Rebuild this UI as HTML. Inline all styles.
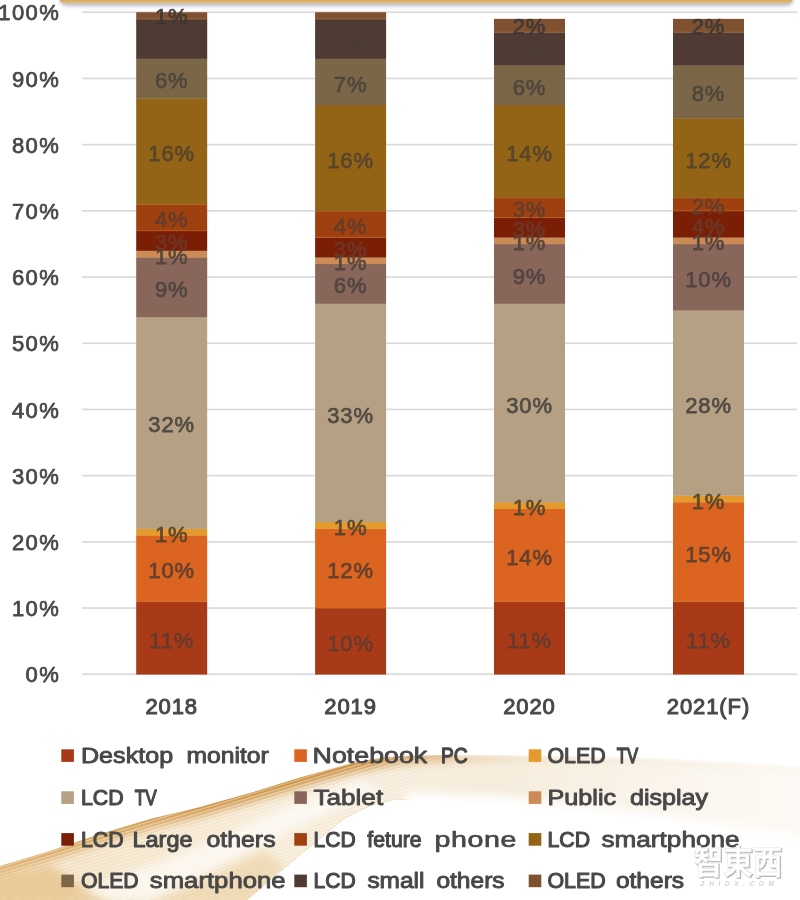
<!DOCTYPE html>
<html lang="en"><head><meta charset="utf-8"><title>Display panel demand share by application</title>
<style>
html,body{margin:0;padding:0;background:#fff;}
body{width:800px;height:900px;position:relative;overflow:hidden;}
svg{position:absolute;left:0;top:0;display:block;}
text{font-family:"Liberation Sans","Noto Sans CJK SC",sans-serif;font-size:22px;font-weight:normal;fill:#484848;stroke:#484848;stroke-width:.75px;stroke-linejoin:round;}
.ax{text-anchor:end;letter-spacing:1.4px;}
.dl,.cat{text-anchor:middle;letter-spacing:.9px;}
.dl{opacity:.92;}
.cat{stroke-width:1px;}
.wm{font-family:"Liberation Sans","Noto Sans CJK TC","Noto Sans CJK SC",sans-serif;font-weight:bold;font-size:33px;fill:#fff;stroke:#e2e2e2;stroke-width:.5px;text-anchor:middle;}
.wms{fill:#cdcdcd;stroke:#cdcdcd;stroke-width:1.1px;}
.wm2{font-size:6.5px;font-style:italic;font-weight:bold;fill:#d4d4d4;stroke:none;text-anchor:middle;letter-spacing:4.6px;}
</style></head><body>
<svg width="800" height="900" viewBox="0 0 800 900">
<defs>
<filter id="b2" x="-10%" y="-50%" width="120%" height="200%"><feGaussianBlur stdDeviation="2"/></filter>
<filter id="b4" x="-10%" y="-50%" width="120%" height="200%"><feGaussianBlur stdDeviation="4"/></filter>
<filter id="b8" x="-10%" y="-50%" width="120%" height="200%"><feGaussianBlur stdDeviation="8"/></filter>
<filter id="sh" x="-5%" y="-100%" width="110%" height="400%"><feGaussianBlur stdDeviation="2"/></filter>
<linearGradient id="gEdge" gradientUnits="userSpaceOnUse" x1="0" y1="0" x2="800" y2="0">
<stop offset="0" stop-color="#DCAE6A"/><stop offset=".2" stop-color="#D39C50"/><stop offset=".36" stop-color="#C98B38"/><stop offset=".46" stop-color="#CB8E3E"/><stop offset=".54" stop-color="#DDB57C"/><stop offset=".65" stop-color="#EBD6B4"/><stop offset="1" stop-color="#F4E9D6"/>
</linearGradient>
<linearGradient id="gRib" gradientUnits="userSpaceOnUse" x1="0" y1="0" x2="800" y2="0">
<stop offset="0" stop-color="#F2DEBC"/><stop offset=".3" stop-color="#F6E9D2"/><stop offset=".6" stop-color="#F6ECDB"/><stop offset="1" stop-color="#FAF4EA"/>
</linearGradient>
<filter id="b5" x="-10%" y="-20%" width="120%" height="140%"><feGaussianBlur stdDeviation="5"/></filter>
<linearGradient id="gBand" x1="0" y1="0" x2="0" y2="1"><stop offset="0" stop-color="#D2A556"/><stop offset=".75" stop-color="#D8AE62"/><stop offset="1" stop-color="#E4C68E"/></linearGradient>
<filter id="b1" x="-10%" y="-20%" width="120%" height="140%"><feGaussianBlur stdDeviation=".7"/></filter>
<linearGradient id="gFade" x1="0" y1="0" x2="1" y2="0"><stop offset="0" stop-color="#fff" stop-opacity="0"/><stop offset="1" stop-color="#fff" stop-opacity=".5"/></linearGradient>
<pattern id="stripes" width="6" height="3.2" patternUnits="userSpaceOnUse" patternTransform="rotate(-17)"><rect x="0" y="0" width="6" height="1.2" fill="#fff" fill-opacity=".45"/></pattern>
<linearGradient id="gStr" gradientUnits="userSpaceOnUse" x1="0" y1="0" x2="800" y2="0"><stop offset="0" stop-color="#fff" stop-opacity=".9"/><stop offset=".5" stop-color="#fff" stop-opacity=".9"/><stop offset=".62" stop-color="#fff" stop-opacity="0"/></linearGradient>
<mask id="mStr"><rect x="-10" y="740" width="820" height="170" fill="url(#gStr)"/></mask>
<filter id="wsh" x="-10%" y="-20%" width="120%" height="140%"><feDropShadow dx="1" dy="1" stdDeviation=".7" flood-color="#9a9a9a" flood-opacity=".8"/></filter>
</defs>

<clipPath id="ribc"><path d="M-10.0,869.0 L0.0,866.0 L50.0,851.0 L100.0,834.0 L150.0,819.0 L200.0,807.0 L250.0,793.0 L300.0,777.5 L350.0,763.8 L375.0,758.8 L400.0,756.0 L450.0,755.0 L500.0,755.0 L650.0,758.0 L800.0,766.0 L810.0,766.6 L810.0,843.0 L800.0,842.0 L650.0,820.0 L500.0,803.0 L420.0,799.0 L392.0,800.0 L370.0,806.0 L345.0,818.0 L307.0,849.0 L275.0,876.0 L247.0,900.0 L-10.0,900.0 Z"/></clipPath>
<g id="swoosh" clip-path="url(#ribc)">
<rect x="-10" y="740" width="820" height="170" fill="url(#gEdge)"/>
<path d="M-10.0,878.0 L0.0,875.0 L50.0,860.0 L100.0,843.0 L150.0,828.0 L200.0,816.0 L250.0,802.0 L300.0,786.5 L350.0,772.8 L375.0,767.8 L400.0,764.0 L450.0,760.5 L500.0,758.0 L650.0,761.0 L800.0,769.0 L810.0,769.6 L900,766 L900,960 L-60,960 Z" fill="url(#gRib)" filter="url(#b5)"/>
<rect x="-10" y="740" width="820" height="170" fill="url(#stripes)" mask="url(#mStr)"/>
<path d="M60,900 L200,846 L290,806 L360,780 L380,790 L300,826 L215,868 L150,900 Z" fill="#fff" opacity=".6" filter="url(#b4)"/>
<path d="M-10,876 L50,866 L110,905 L-10,905 Z" fill="#E3BD80" opacity=".65" filter="url(#b4)"/>
<path d="M150,905 L215,876 L262,852 L285,866 L250,905 Z" fill="#EBCFA0" opacity=".6" filter="url(#b4)"/>
</g>
<path d="M405,801 L420,800 L500,803 L650,820 L810,843" stroke="#fff" stroke-width="15" fill="none" filter="url(#b4)" opacity=".95"/>
<path d="M455,754 L500,754 L650,757 L810,765.5" stroke="#fff" stroke-width="5" fill="none" filter="url(#b2)" opacity=".8"/>
<rect x="500" y="745" width="300" height="110" fill="url(#gFade)"/>
<rect x="82" y="673.40" width="715" height="1.7" fill="#DADADA"/>
<rect x="82" y="607.20" width="715" height="1.7" fill="#DADADA"/>
<rect x="82" y="541.00" width="715" height="1.7" fill="#DADADA"/>
<rect x="82" y="474.80" width="715" height="1.7" fill="#DADADA"/>
<rect x="82" y="408.60" width="715" height="1.7" fill="#DADADA"/>
<rect x="82" y="342.40" width="715" height="1.7" fill="#DADADA"/>
<rect x="82" y="276.20" width="715" height="1.7" fill="#DADADA"/>
<rect x="82" y="210.00" width="715" height="1.7" fill="#DADADA"/>
<rect x="82" y="143.80" width="715" height="1.7" fill="#DADADA"/>
<rect x="82" y="77.60" width="715" height="1.7" fill="#DADADA"/>
<rect x="82" y="11.40" width="715" height="1.7" fill="#DADADA"/>
<text class="ax" x="60.2" y="682.45">0%</text>
<text class="ax" x="60.2" y="616.25">10%</text>
<text class="ax" x="60.2" y="550.05">20%</text>
<text class="ax" x="60.2" y="483.85">30%</text>
<text class="ax" x="60.2" y="417.65">40%</text>
<text class="ax" x="60.2" y="351.45">50%</text>
<text class="ax" x="60.2" y="285.25">60%</text>
<text class="ax" x="60.2" y="219.05">70%</text>
<text class="ax" x="60.2" y="152.85">80%</text>
<text class="ax" x="60.2" y="86.65">90%</text>
<text class="ax" x="60.2" y="20.45">100%</text>
<rect x="136.2" y="601.43" width="71" height="73.12" fill="#A83A18"/>
<rect x="136.2" y="535.23" width="71" height="66.50" fill="#DB6420"/>
<rect x="136.2" y="528.61" width="71" height="6.92" fill="#E49A2C"/>
<rect x="136.2" y="316.77" width="71" height="212.14" fill="#B6A083"/>
<rect x="136.2" y="257.19" width="71" height="59.88" fill="#89665A"/>
<rect x="136.2" y="250.57" width="71" height="6.92" fill="#CB8B57"/>
<rect x="136.2" y="230.71" width="71" height="20.16" fill="#7A1F06"/>
<rect x="136.2" y="204.23" width="71" height="26.78" fill="#9E4010"/>
<rect x="136.2" y="203.73" width="71" height="1.1" fill="#CF7E3E" opacity=".75"/>
<rect x="136.2" y="230.21" width="71" height="1" fill="#C66A2E" opacity=".6"/>
<rect x="136.2" y="98.31" width="71" height="106.22" fill="#936416"/>
<rect x="136.2" y="58.59" width="71" height="40.02" fill="#7B6647"/>
<rect x="136.2" y="18.87" width="71" height="40.02" fill="#4F3B33"/>
<rect x="136.2" y="12.25" width="71" height="6.92" fill="#7F5130"/>
<rect x="136.2" y="18.47" width="71" height="1" fill="#A9794A" opacity=".7"/>
<rect x="315.1" y="608.05" width="71" height="66.50" fill="#A83A18"/>
<rect x="315.1" y="528.61" width="71" height="79.74" fill="#DB6420"/>
<rect x="315.1" y="521.99" width="71" height="6.92" fill="#E49A2C"/>
<rect x="315.1" y="303.53" width="71" height="218.76" fill="#B6A083"/>
<rect x="315.1" y="263.81" width="71" height="40.02" fill="#89665A"/>
<rect x="315.1" y="257.19" width="71" height="6.92" fill="#CB8B57"/>
<rect x="315.1" y="237.33" width="71" height="20.16" fill="#7A1F06"/>
<rect x="315.1" y="210.85" width="71" height="26.78" fill="#9E4010"/>
<rect x="315.1" y="210.35" width="71" height="1.1" fill="#CF7E3E" opacity=".75"/>
<rect x="315.1" y="236.83" width="71" height="1" fill="#C66A2E" opacity=".6"/>
<rect x="315.1" y="104.93" width="71" height="106.22" fill="#936416"/>
<rect x="315.1" y="58.59" width="71" height="46.64" fill="#7B6647"/>
<rect x="315.1" y="18.87" width="71" height="40.02" fill="#4F3B33"/>
<rect x="315.1" y="12.25" width="71" height="6.92" fill="#7F5130"/>
<rect x="315.1" y="18.47" width="71" height="1" fill="#A9794A" opacity=".7"/>
<rect x="494.0" y="601.43" width="71" height="73.12" fill="#A83A18"/>
<rect x="494.0" y="508.75" width="71" height="92.98" fill="#DB6420"/>
<rect x="494.0" y="502.13" width="71" height="6.92" fill="#E49A2C"/>
<rect x="494.0" y="303.53" width="71" height="198.90" fill="#B6A083"/>
<rect x="494.0" y="243.95" width="71" height="59.88" fill="#89665A"/>
<rect x="494.0" y="237.33" width="71" height="6.92" fill="#CB8B57"/>
<rect x="494.0" y="217.47" width="71" height="20.16" fill="#7A1F06"/>
<rect x="494.0" y="197.61" width="71" height="20.16" fill="#9E4010"/>
<rect x="494.0" y="197.11" width="71" height="1.1" fill="#CF7E3E" opacity=".75"/>
<rect x="494.0" y="216.97" width="71" height="1" fill="#C66A2E" opacity=".6"/>
<rect x="494.0" y="104.93" width="71" height="92.98" fill="#936416"/>
<rect x="494.0" y="65.21" width="71" height="40.02" fill="#7B6647"/>
<rect x="494.0" y="32.11" width="71" height="33.40" fill="#4F3B33"/>
<rect x="494.0" y="18.87" width="71" height="13.54" fill="#7F5130"/>
<rect x="494.0" y="31.71" width="71" height="1" fill="#A9794A" opacity=".7"/>
<rect x="673.0" y="601.43" width="71" height="73.12" fill="#A83A18"/>
<rect x="673.0" y="502.13" width="71" height="99.60" fill="#DB6420"/>
<rect x="673.0" y="495.51" width="71" height="6.92" fill="#E49A2C"/>
<rect x="673.0" y="310.15" width="71" height="185.66" fill="#B6A083"/>
<rect x="673.0" y="243.95" width="71" height="66.50" fill="#89665A"/>
<rect x="673.0" y="237.33" width="71" height="6.92" fill="#CB8B57"/>
<rect x="673.0" y="210.85" width="71" height="26.78" fill="#7A1F06"/>
<rect x="673.0" y="197.61" width="71" height="13.54" fill="#9E4010"/>
<rect x="673.0" y="197.11" width="71" height="1.1" fill="#CF7E3E" opacity=".75"/>
<rect x="673.0" y="210.35" width="71" height="1" fill="#C66A2E" opacity=".6"/>
<rect x="673.0" y="118.17" width="71" height="79.74" fill="#936416"/>
<rect x="673.0" y="65.21" width="71" height="53.26" fill="#7B6647"/>
<rect x="673.0" y="32.11" width="71" height="33.40" fill="#4F3B33"/>
<rect x="673.0" y="18.87" width="71" height="13.54" fill="#7F5130"/>
<rect x="673.0" y="31.71" width="71" height="1" fill="#A9794A" opacity=".7"/>
<text class="dl" x="171.7" y="647.64" style="fill:#633b2f;stroke:#633b2f">11%</text>
<text class="dl" x="171.7" y="578.13" style="fill:#5c3f2e;stroke:#5c3f2e">10%</text>
<text class="dl" x="171.7" y="541.72" style="fill:#52442f;stroke:#52442f">1%</text>
<text class="dl" x="171.7" y="432.49" style="fill:#4a4540;stroke:#4a4540">32%</text>
<text class="dl" x="171.7" y="296.78" style="fill:#4d4340;stroke:#4d4340">9%</text>
<text class="dl" x="171.7" y="263.68" style="fill:#514339;stroke:#514339">1%</text>
<text class="dl" x="171.7" y="250.44" style="fill:#6c382a;stroke:#6c382a">3%</text>
<text class="dl" x="171.7" y="227.27" style="fill:#603e2c;stroke:#603e2c">4%</text>
<text class="dl" x="171.7" y="161.07" style="fill:#53442d;stroke:#53442d">16%</text>
<text class="dl" x="171.7" y="88.25" style="fill:#4b453c;stroke:#4b453c">6%</text>
<text class="dl" x="171.7" y="48.53" style="fill:#4a3c37;stroke:#4a3c37">6%</text>
<text class="dl" x="171.7" y="23.86" style="fill:#3c3836;stroke:#3c3836">1%</text>
<text class="dl" x="350.6" y="650.95" style="fill:#633b2f;stroke:#633b2f">10%</text>
<text class="dl" x="350.6" y="578.13" style="fill:#5c3f2e;stroke:#5c3f2e">12%</text>
<text class="dl" x="350.6" y="535.10" style="fill:#52442f;stroke:#52442f">1%</text>
<text class="dl" x="350.6" y="422.56" style="fill:#4a4540;stroke:#4a4540">33%</text>
<text class="dl" x="350.6" y="293.47" style="fill:#4d4340;stroke:#4d4340">6%</text>
<text class="dl" x="350.6" y="270.30" style="fill:#514339;stroke:#514339">1%</text>
<text class="dl" x="350.6" y="257.06" style="fill:#6c382a;stroke:#6c382a">3%</text>
<text class="dl" x="350.6" y="233.89" style="fill:#603e2c;stroke:#603e2c">4%</text>
<text class="dl" x="350.6" y="167.69" style="fill:#53442d;stroke:#53442d">16%</text>
<text class="dl" x="350.6" y="91.56" style="fill:#4b453c;stroke:#4b453c">7%</text>
<text class="dl" x="350.6" y="48.53" style="fill:#4a3c37;stroke:#4a3c37">6%</text>
<text class="dl" x="529.5" y="647.64" style="fill:#633b2f;stroke:#633b2f">11%</text>
<text class="dl" x="529.5" y="564.89" style="fill:#5c3f2e;stroke:#5c3f2e">14%</text>
<text class="dl" x="529.5" y="515.24" style="fill:#52442f;stroke:#52442f">1%</text>
<text class="dl" x="529.5" y="412.63" style="fill:#4a4540;stroke:#4a4540">30%</text>
<text class="dl" x="529.5" y="283.54" style="fill:#4d4340;stroke:#4d4340">9%</text>
<text class="dl" x="529.5" y="250.44" style="fill:#514339;stroke:#514339">1%</text>
<text class="dl" x="529.5" y="237.20" style="fill:#6c382a;stroke:#6c382a">3%</text>
<text class="dl" x="529.5" y="217.34" style="fill:#603e2c;stroke:#603e2c">3%</text>
<text class="dl" x="529.5" y="161.07" style="fill:#53442d;stroke:#53442d">14%</text>
<text class="dl" x="529.5" y="94.87" style="fill:#4b453c;stroke:#4b453c">6%</text>
<text class="dl" x="529.5" y="58.46" style="fill:#4a3c37;stroke:#4a3c37">5%</text>
<text class="dl" x="529.5" y="33.79" style="fill:#3c3836;stroke:#3c3836">2%</text>
<text class="dl" x="708.5" y="647.64" style="fill:#633b2f;stroke:#633b2f">11%</text>
<text class="dl" x="708.5" y="561.58" style="fill:#5c3f2e;stroke:#5c3f2e">15%</text>
<text class="dl" x="708.5" y="508.62" style="fill:#52442f;stroke:#52442f">1%</text>
<text class="dl" x="708.5" y="412.63" style="fill:#4a4540;stroke:#4a4540">28%</text>
<text class="dl" x="708.5" y="286.85" style="fill:#4d4340;stroke:#4d4340">10%</text>
<text class="dl" x="708.5" y="250.44" style="fill:#514339;stroke:#514339">1%</text>
<text class="dl" x="708.5" y="233.89" style="fill:#6c382a;stroke:#6c382a">4%</text>
<text class="dl" x="708.5" y="214.03" style="fill:#603e2c;stroke:#603e2c">2%</text>
<text class="dl" x="708.5" y="167.69" style="fill:#53442d;stroke:#53442d">12%</text>
<text class="dl" x="708.5" y="101.49" style="fill:#4b453c;stroke:#4b453c">8%</text>
<text class="dl" x="708.5" y="58.46" style="fill:#4a3c37;stroke:#4a3c37">5%</text>
<text class="dl" x="708.5" y="33.79" style="fill:#3c3836;stroke:#3c3836">2%</text>
<text class="cat" x="171.7" y="714.3">2018</text>
<text class="cat" x="350.6" y="714.3">2019</text>
<text class="cat" x="529.5" y="714.3">2020</text>
<text class="cat" x="708.5" y="714.3">2021(F)</text>
<rect x="60" y="-4.5" width="733" height="10" rx="7" fill="#6a6a88" opacity=".55" filter="url(#sh)"/>
<rect x="59.3" y="-7" width="733.5" height="10.6" rx="7" fill="url(#gBand)"/>
<rect x="61.3" y="749.3" width="12.6" height="12.6" fill="#A83A18"/>
<rect x="294.3" y="749.3" width="12.6" height="12.6" fill="#DB6420"/>
<rect x="528.7" y="749.3" width="12.6" height="12.6" fill="#E49A2C"/>
<rect x="61.3" y="791.3" width="12.6" height="12.6" fill="#B6A083"/>
<rect x="294.3" y="791.3" width="12.6" height="12.6" fill="#89665A"/>
<rect x="528.7" y="791.3" width="12.6" height="12.6" fill="#CB8B57"/>
<rect x="61.3" y="833.1" width="12.6" height="12.6" fill="#7A1F06"/>
<rect x="294.3" y="833.1" width="12.6" height="12.6" fill="#9E4010"/>
<rect x="528.7" y="833.1" width="12.6" height="12.6" fill="#936416"/>
<rect x="61.3" y="874.6" width="12.6" height="12.6" fill="#7B6647"/>
<rect x="294.3" y="874.6" width="12.6" height="12.6" fill="#4F3B33"/>
<rect x="528.7" y="874.6" width="12.6" height="12.6" fill="#7F5130"/>
<text id="w0" transform="translate(80.98,762.7) scale(1.1417,1)" textLength="80.72" lengthAdjust="spacing" style="stroke-width:0.90px">Desktop</text>
<text id="w1" transform="translate(186.48,762.7) scale(1.1211,1)" textLength="73.36" lengthAdjust="spacing" style="stroke-width:0.93px">monitor</text>
<text id="w2" transform="translate(312.56,762.7) scale(1.2176,1)" textLength="94.19" lengthAdjust="spacing" style="stroke-width:0.80px">Notebook</text>
<text id="w3" transform="translate(440.92,762.7) scale(0.8749,1)" textLength="30.56" lengthAdjust="spacing" style="stroke-width:1.28px">PC</text>
<text id="w4" transform="translate(547.42,762.7) scale(0.9706,1)" textLength="59.92" lengthAdjust="spacing" style="stroke-width:1.14px">OLED</text>
<text id="w5" transform="translate(616.78,762.7) scale(0.7616,1)" textLength="28.12" lengthAdjust="spacing" style="stroke-width:1.43px">TV</text>
<text id="w6" transform="translate(80.98,804.7) scale(0.9692,1)" textLength="44.02" lengthAdjust="spacing" style="stroke-width:1.14px">LCD</text>
<text id="w7" transform="translate(134.84,804.7) scale(0.7772,1)" textLength="28.12" lengthAdjust="spacing" style="stroke-width:1.41px">TV</text>
<text id="w8" transform="translate(313.38,804.7) scale(1.1887,1)" textLength="58.72" lengthAdjust="spacing" style="stroke-width:0.84px">Tablet</text>
<text id="w9" transform="translate(547.48,804.7) scale(1.1465,1)" textLength="59.92" lengthAdjust="spacing" style="stroke-width:0.89px">Public</text>
<text id="w10" transform="translate(629.92,804.7) scale(1.1427,1)" textLength="68.48" lengthAdjust="spacing" style="stroke-width:0.90px">display</text>
<text id="w11" transform="translate(80.98,846.5) scale(0.9692,1)" textLength="44.02" lengthAdjust="spacing" style="stroke-width:1.14px">LCD</text>
<text id="w12" transform="translate(132.50,846.5) scale(1.0671,1)" textLength="56.28" lengthAdjust="spacing" style="stroke-width:1.01px">Large</text>
<text id="w13" transform="translate(206.38,846.5) scale(1.1319,1)" textLength="61.16" lengthAdjust="spacing" style="stroke-width:0.92px">others</text>
<text id="w14" transform="translate(313.46,846.5) scale(0.9583,1)" textLength="44.02" lengthAdjust="spacing" style="stroke-width:1.16px">LCD</text>
<text id="w15" transform="translate(367.30,846.5) scale(0.9661,1)" textLength="56.27" lengthAdjust="spacing" style="stroke-width:1.15px">feture</text>
<text id="w16" transform="translate(434.50,846.5) scale(1.3000,1)" textLength="63.08" lengthAdjust="spacing" style="stroke-width:0.68px">phone</text>
<text id="w17" transform="translate(547.48,846.5) scale(0.9692,1)" textLength="44.02" lengthAdjust="spacing" style="stroke-width:1.14px">LCD</text>
<text id="w18" transform="translate(601.40,846.5) scale(1.1895,1)" textLength="116.19" lengthAdjust="spacing" style="stroke-width:0.83px">smartphone</text>
<text id="w19" transform="translate(80.90,888.0) scale(0.9636,1)" textLength="59.92" lengthAdjust="spacing" style="stroke-width:1.15px">OLED</text>
<text id="w20" transform="translate(149.84,888.0) scale(1.1685,1)" textLength="116.19" lengthAdjust="spacing" style="stroke-width:0.86px">smartphone</text>
<text id="w21" transform="translate(313.46,888.0) scale(0.9583,1)" textLength="44.02" lengthAdjust="spacing" style="stroke-width:1.16px">LCD</text>
<text id="w22" transform="translate(367.38,888.0) scale(1.1125,1)" textLength="51.34" lengthAdjust="spacing" style="stroke-width:0.94px">small</text>
<text id="w23" transform="translate(436.38,888.0) scale(1.1155,1)" textLength="61.16" lengthAdjust="spacing" style="stroke-width:0.94px">others</text>
<text id="w24" transform="translate(547.42,888.0) scale(0.9706,1)" textLength="59.92" lengthAdjust="spacing" style="stroke-width:1.14px">OLED</text>
<text id="w25" transform="translate(615.88,888.0) scale(1.1162,1)" textLength="61.16" lengthAdjust="spacing" style="stroke-width:0.94px">others</text>
<text class="wm" x="738" y="873.5" textLength="89" lengthAdjust="spacingAndGlyphs" filter="url(#wsh)">智東西</text>
<text class="wm2" x="739.5" y="885.5">ZHIDX.COM</text>
</svg>
</body></html>
